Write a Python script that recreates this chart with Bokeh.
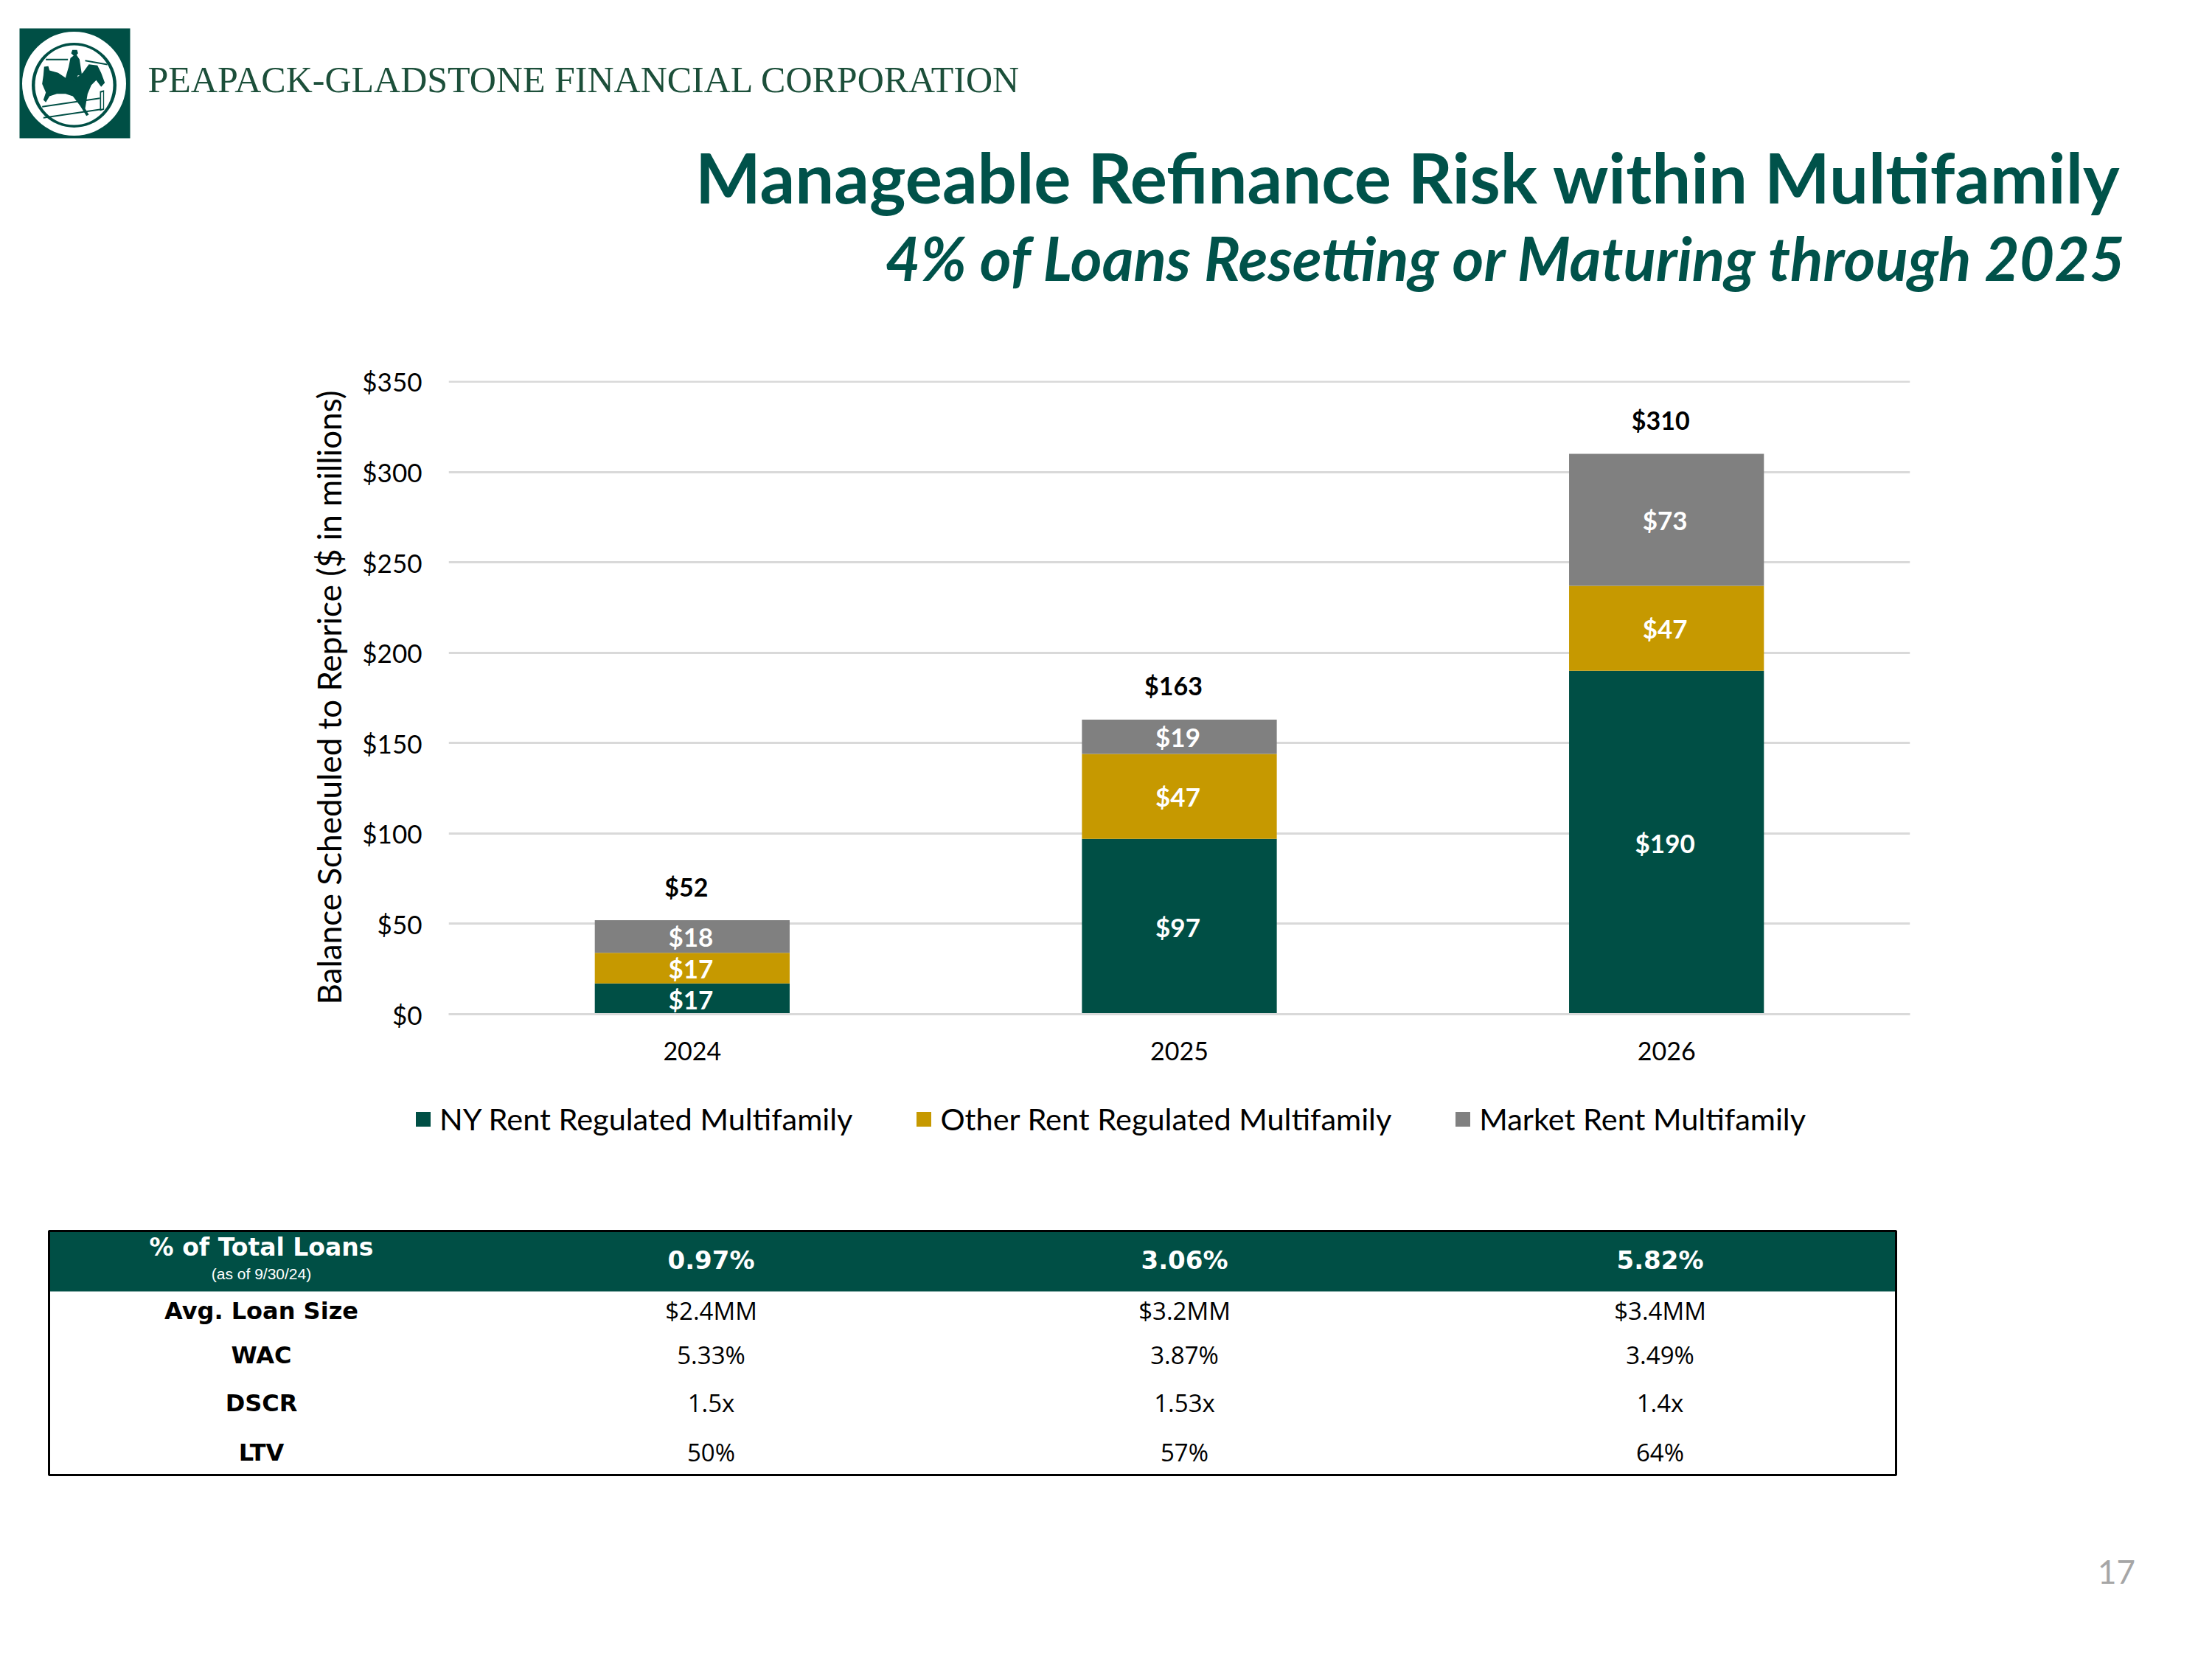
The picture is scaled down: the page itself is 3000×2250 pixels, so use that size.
import math
from bokeh.plotting import figure
from bokeh.models import (ColumnDataSource, Legend, LegendItem, FactorRange, Range1d,
                          FixedTicker, NumeralTickFormatter)
from bokeh.core.properties import value
from bokeh.embed import file_html
from bokeh.resources import INLINE

# ---- data ----
years = ["2024", "2025", "2026"]
ny_rent = [17, 97, 190]
other_rent = [17, 47, 47]
market_rent = [18, 19, 73]
totals = [52, 163, 310]
series_names = ["NY Rent Regulated Multifamily", "Other Rent Regulated Multifamily", "Market Rent Multifamily"]
y_ticks = [0, 50, 100, 150, 200, 250, 300, 350]
row_labels = ["Avg. Loan Size", "WAC", "DSCR", "LTV"]
pct_total = ["0.97%", "3.06%", "5.82%"]
avg_size = ["$2.4MM", "$3.2MM", "$3.4MM"]
wac = ["5.33%", "3.87%", "3.49%"]
dscr = ["1.5x", "1.53x", "1.4x"]
ltv = ["50%", "57%", "64%"]

GREEN = "#004F45"
GOLD = "#C69900"
GRAY = "#808080"
GRID = "#D9D9D9"
TITLE = "#00524A"
SANS = "Lato"
W = 2984
series_colors = [GREEN, GOLD, GRAY]


def page_fig(top, bottom):
    """A figure whose data coordinates are window pixels."""
    f = figure(width=W, height=bottom - top, output_backend="svg", toolbar_location=None,
               x_range=Range1d(0, W), y_range=Range1d(bottom, top),
               min_border=0, min_border_left=0, min_border_right=0, min_border_top=0, min_border_bottom=0,
               outline_line_color=None)
    f.axis.visible = False
    f.grid.visible = False
    return f


def put(f, x, y, s, size, color="#000000", font=SANS, style="normal", align="center"):
    f.text([x], [y], text=[s], text_font=value(font), text_font_size=f"{size}px",
           text_font_style=style, text_color=color, text_align=align, text_baseline="middle")


# ---- header ----
head = page_fig(0, 440)


def sketch(pts, fill=GREEN):
    # logo outlines, traced in the logo's own 3x crop units
    head.patch([20 + p[0] / 3 for p in pts], [30 + p[1] / 3 for p in pts], fill_color=fill, line_color=None)


head.rect([101], [112.5], width=150, height=149, fill_color=GREEN, line_color=None)
head.ellipse([100], [113], width=141, height=141, fill_color="#FFFFFF", line_color=None)
head.ellipse([100], [115], width=115, height=115, fill_color=GREEN, line_color=None)
head.ellipse([100], [115], width=106, height=108, fill_color="#FFFFFF", line_color=None)
sketch([(118, 180), (135, 178), (140, 195), (175, 205), (205, 225), (250, 225), (275, 205), (300, 170), (335, 175),
        (350, 205), (365, 245), (350, 262), (330, 235), (310, 255), (295, 290), (285, 350), (300, 375), (290, 380),
        (265, 340), (235, 300), (205, 290), (170, 290), (140, 300), (125, 325), (115, 315), (125, 285), (110, 250),
        (115, 215)])
sketch([(228, 125), (233, 112), (252, 112), (256, 125), (250, 132), (262, 150), (272, 215), (255, 215), (250, 240),
        (205, 225), (218, 180), (225, 145), (238, 135)])
sketch([(125, 148), (215, 148), (215, 154), (125, 154)])
sketch([(285, 152), (375, 168), (375, 174), (285, 158)])
sketch([(110, 340), (345, 305), (345, 311), (110, 346)])
sketch([(115, 385), (350, 350), (350, 356), (115, 391)])
sketch([(345, 280), (362, 275), (362, 355), (345, 360)])
sketch([(350, 285), (358, 283), (358, 350), (350, 352)], "#FFFFFF")
put(head, 200, 107, "PEAPACK-GLADSTONE FINANCIAL CORPORATION", 50, "#1C4F3A", "Liberation Serif", align="left")
put(head, 2876, 239, "Manageable Refinance Risk within Multifamily", 94, TITLE, style="bold", align="right")
put(head, 2884, 348, "4% of Loans Resetting or Maturing through 2025", 82, TITLE, style="bold italic", align="right")

# ---- chart ----
chart = figure(width=W, height=1030, output_backend="svg", toolbar_location=None,
               x_range=FactorRange(factors=years, range_padding=0), y_range=Range1d(0, 350.4),
               min_border_left=608, min_border_right=W - 2590, min_border_top=76, min_border_bottom=95,
               outline_line_color=None)
src = ColumnDataSource(dict(year=years, ny=ny_rent, other=other_rent, market=market_rent, total=totals))
chart.vbar_stack(["ny", "other", "market"], x="year", width=0.4, source=src,
                 color=series_colors, line_color=None)

chart.xgrid.visible = False
chart.ygrid.grid_line_color = GRID
chart.ygrid.grid_line_width = 3
chart.ygrid.ticker = FixedTicker(ticks=y_ticks)
chart.yaxis.ticker = FixedTicker(ticks=y_ticks)
chart.yaxis.formatter = NumeralTickFormatter(format="$0")
chart.yaxis.axis_line_color = None
chart.yaxis.major_tick_line_color = None
chart.yaxis.minor_tick_line_color = None
chart.yaxis.major_label_standoff = 30
chart.yaxis.axis_label = "Balance Scheduled to Reprice ($ in millions)"
chart.yaxis.axis_label_text_font = SANS
chart.yaxis.axis_label_text_font_size = "44px"
chart.yaxis.axis_label_text_font_style = "normal"
chart.yaxis.axis_label_text_color = "#000000"
chart.yaxis.axis_label_standoff = 16
chart.xaxis.axis_line_color = GRID
chart.xaxis.axis_line_width = 3
chart.xaxis.major_tick_line_color = None
chart.xaxis.minor_tick_line_color = None
chart.xaxis.major_label_standoff = 31
for ax in (chart.xaxis, chart.yaxis):
    ax.major_label_text_font = SANS
    ax.major_label_text_font_size = "35px"
    ax.major_label_text_color = "#000000"
chart.xaxis.major_label_text_font_size = "34px"

# segment and total labels
bases = [0, 0, 0]
for vals in (ny_rent, other_rent, market_rent):
    centers = [b + v / 2 for b, v in zip(bases, vals)]
    chart.text(years, centers, text=[f"${v}" for v in vals], text_color="#FFFFFF",
               text_font=value(SANS), text_font_size="35px", text_font_style="bold",
               text_align="center", text_baseline="middle", x_offset=-2)
    bases = [b + v for b, v in zip(bases, vals)]
chart.text(years, totals, text=[f"${v}" for v in totals], text_color="#000000",
           text_font=value(SANS), text_font_size="34px", text_font_style="bold",
           text_align="center", text_baseline="middle", x_offset=-8, y_offset=-46)

# ---- legend strip ----
strip = page_fig(1470, 1600)
# each key is a zero-sized quad off the strip: it only lends the legend its colour
keys = [strip.quad(left=[-50], right=[-50], top=[-50], bottom=[-50], fill_color=c, line_color=None)
        for c in series_colors]
legend = Legend(items=[LegendItem(label=n, renderers=[r]) for n, r in zip(series_names, keys)],
                orientation="horizontal", location=(561, 58), border_line_color=None,
                background_fill_alpha=0, label_text_font=SANS, label_text_font_size="41.5px",
                label_text_color="#000000", glyph_width=25, glyph_height=25, spacing=84,
                label_standoff=10, margin=0, padding=0)
strip.add_layout(legend, "center")

# ---- table and page number ----
table = page_fig(1600, 2240)
TL, TR, TT, HB, TB = 66, 2571, 1669, 1751, 2000
table.quad(left=[TL], right=[TR], top=[TT], bottom=[HB], fill_color=GREEN, line_color=None)
table.quad(left=[TL], right=[TR], top=[TT], bottom=[TB], fill_color=None, line_color="#000000", line_width=3)
LABEL_X = 354
COL_X = [964, 1606, 2251]
ROW_Y = [1777, 1837, 1902, 1969]
TFONT = "DejaVu Sans"
put(table, LABEL_X, 1691, "% of Total Loans", 33, "#FFFFFF", TFONT, "bold")
put(table, LABEL_X, 1727, "(as of 9/30/24)", 21, "#FFFFFF", "Liberation Sans")
for x, s in zip(COL_X, pct_total):
    put(table, x, 1708, s, 34, "#FFFFFF", TFONT, "bold")
rows = [avg_size, wac, dscr, ltv]
for y, lab, row in zip(ROW_Y, row_labels, rows):
    put(table, LABEL_X, y, lab, 32, "#000000", TFONT, "bold")
    for x, s in zip(COL_X, row):
        put(table, x, y, s, 33, "#000000", "Open Sans")
put(table, 2870, 2131, "17", 44, "#A6A6A6")

open("out.html", "w").write(file_html([head, chart, strip, table], INLINE))
